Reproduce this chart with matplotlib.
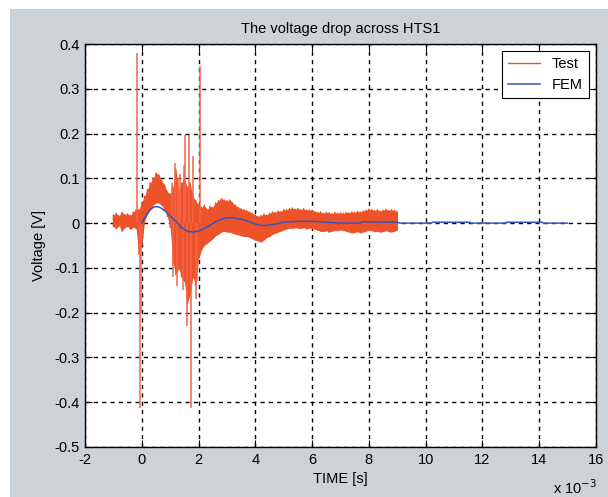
import numpy as np
import matplotlib.pyplot as plt
from matplotlib.patches import Rectangle

plt.rcParams['font.family'] = ['Liberation Sans', 'DejaVu Sans']

# Test signal: upper / lower edge of the noisy band, sampled every 0.1 ms from -1 ms to 9 ms
test_hi = [0.018, 0.022, 0.016, 0.024, 0.019, 0.021, 0.017, 0.025, 0.03, 0.03,
           0.045, 0.06, 0.075, 0.09, 0.1, 0.112, 0.108, 0.095, 0.085, 0.07, 0.065,
           0.08, 0.12, 0.07, 0.09, 0.1, 0.08, 0.09, 0.06, 0.05, 0.04,
           0.035, 0.04, 0.03, 0.038, 0.035, 0.045, 0.05, 0.055, 0.052, 0.05,
           0.052, 0.045, 0.04, 0.035, 0.032, 0.03, 0.028, 0.025, 0.022, 0.018,
           0.015, 0.017, 0.02, 0.018, 0.022, 0.025, 0.024, 0.027, 0.026, 0.03,
           0.03, 0.032, 0.034, 0.031, 0.033, 0.03, 0.032, 0.029, 0.03, 0.028,
           0.026, 0.024, 0.025, 0.022, 0.024, 0.023, 0.021, 0.024, 0.022, 0.023,
           0.022, 0.024, 0.023, 0.025, 0.024, 0.026, 0.025, 0.027, 0.029, 0.031,
           0.03, 0.028, 0.03, 0.027, 0.029, 0.031, 0.028, 0.03, 0.028, 0.026]
test_lo = [-0.008, -0.012, -0.006, -0.018, -0.01, -0.007, -0.014, -0.009, -0.012, -0.07,
           -0.05, 0.005, 0.02, 0.03, 0.04, 0.045, 0.045, 0.04, 0.03, 0.015, -0.01,
           -0.09, -0.115, -0.1, -0.12, -0.13, -0.18, -0.16, -0.12, -0.14, -0.08,
           -0.06, -0.05, -0.045, -0.04, -0.035, -0.028, -0.025, -0.02, -0.018, -0.02,
           -0.02, -0.022, -0.025, -0.026, -0.028, -0.03, -0.03, -0.032, -0.035, -0.038,
           -0.04, -0.042, -0.038, -0.032, -0.03, -0.025, -0.023, -0.02, -0.018, -0.015,
           -0.013, -0.011, -0.012, -0.01, -0.011, -0.012, -0.01, -0.013, -0.011, -0.012,
           -0.014, -0.016, -0.018, -0.019, -0.017, -0.02, -0.018, -0.016, -0.017, -0.015,
           -0.016, -0.018, -0.02, -0.022, -0.021, -0.019, -0.022, -0.02, -0.018, -0.016,
           -0.017, -0.019, -0.018, -0.02, -0.019, -0.017, -0.019, -0.02, -0.018, -0.015]
t_test = np.round(np.arange(-1.0, 9.01, 0.1), 2)

# isolated spikes in the test signal (ms, V)
spike_t = [-0.17, -0.07, -0.03, 1.05, 1.1, 1.16, 1.25, 1.28, 1.35, 1.45, 1.5,
           1.54, 1.6, 1.66, 1.72, 1.82, 1.9, 1.95, 2.05]
spike_v = [0.38, -0.414, -0.2, 0.09, -0.12, 0.134, -0.14, 0.1, 0.11, -0.15, 0.13,
           0.197, -0.23, 0.197, -0.414, 0.15, -0.17, -0.13, 0.35]

# FEM result (ms, V)
fem_t = [0, 0.1, 0.2, 0.3, 0.4, 0.5, 0.6, 0.7, 0.8, 0.9, 1.0, 1.2, 1.4, 1.6, 1.8, 2.0,
         2.2, 2.4, 2.6, 2.8, 3.0, 3.2, 3.4, 3.6, 3.8, 4.0, 4.2, 4.4, 4.6, 4.8, 5.0,
         5.5, 6.0, 6.5, 7.0, 7.7, 7.75, 9.0, 9.1, 10.2, 10.25, 11.55, 11.6,
         12.8, 12.85, 14.1, 14.15, 15.0]
fem_v = [0, 0.012, 0.022, 0.03, 0.035, 0.037, 0.036, 0.033, 0.028, 0.022, 0.016,
         0.004, -0.01, -0.018, -0.02, -0.018, -0.012, -0.005, 0.003, 0.009, 0.012,
         0.012, 0.01, 0.007, 0.003, -0.002, -0.005, -0.005, -0.003, -0.001, 0.002,
         0.004, 0.004, 0.002, 0.0, 0.0, 0.003, 0.002, 0.0, 0.0, 0.002, 0.002, 0.0,
         0.0, 0.002, 0.002, 0.0, 0.0]

red = '#EE5228'
spike_red = '#F2654A'
blue = '#3455C0'

fig = plt.figure(figsize=(6.08, 4.97), dpi=100, facecolor='white')
fig.patches.append(Rectangle((10 / 608, 0), 1, 1 - 9 / 497, transform=fig.transFigure,
                             facecolor='#CDD2D7', edgecolor='none', zorder=-10))
ax = fig.add_axes([85 / 608, 1 - 447 / 497, 511 / 608, 403 / 497])

ts = np.array(t_test) * 1e-3
zig_t = np.repeat(ts, 2)
zig_v = np.ravel(np.column_stack([test_hi, test_lo]))
ax.fill_between(ts, test_lo, test_hi, color=red, lw=0, zorder=2)
ax.plot(zig_t, zig_v, color=red, lw=1.0, label='Test', zorder=2)
ax.vlines(np.array(spike_t) * 1e-3, 0, spike_v, color=spike_red, lw=1.1, zorder=2)
ax.plot(np.array(fem_t) * 1e-3, fem_v, color=blue, lw=1.1, label='FEM', zorder=3)

ax.set_xlim(-2e-3, 16e-3)
ax.set_ylim(-0.5, 0.4)
xt = np.arange(-2, 17, 2)
ax.set_xticks(xt * 1e-3)
ax.set_xticklabels([str(v) for v in xt])
yt = np.round(np.arange(-0.5, 0.41, 0.1), 1)
ax.set_yticks(yt)
ax.set_yticklabels(['0' if v == 0 else f'{v:g}' for v in yt])
ax.tick_params(direction='in', length=5, top=True, right=True, labelsize=10.5, pad=4)
ax.grid(True, color='black', linestyle=(0, (3, 3)), lw=1.0)
for s in ax.spines.values():
    s.set_linewidth(1.0)

ax.set_title('The voltage drop across HTS1', fontsize=10.5, pad=8)
ax.set_xlabel('TIME [s]', fontsize=10.5, labelpad=4)
ax.set_ylabel('Voltage [V]', fontsize=10.5, labelpad=6)
fig.text(575 / 608, 1 - 488 / 497, 'x 10$^{-3}$', fontsize=10.5, ha='center', va='center')

leg = ax.legend(loc='upper right', fontsize=10.5, fancybox=False, framealpha=1,
                edgecolor='black', borderaxespad=0.5, handlelength=2.2)
leg.get_frame().set_linewidth(0.8)

fig.savefig('out.png', dpi=100)
